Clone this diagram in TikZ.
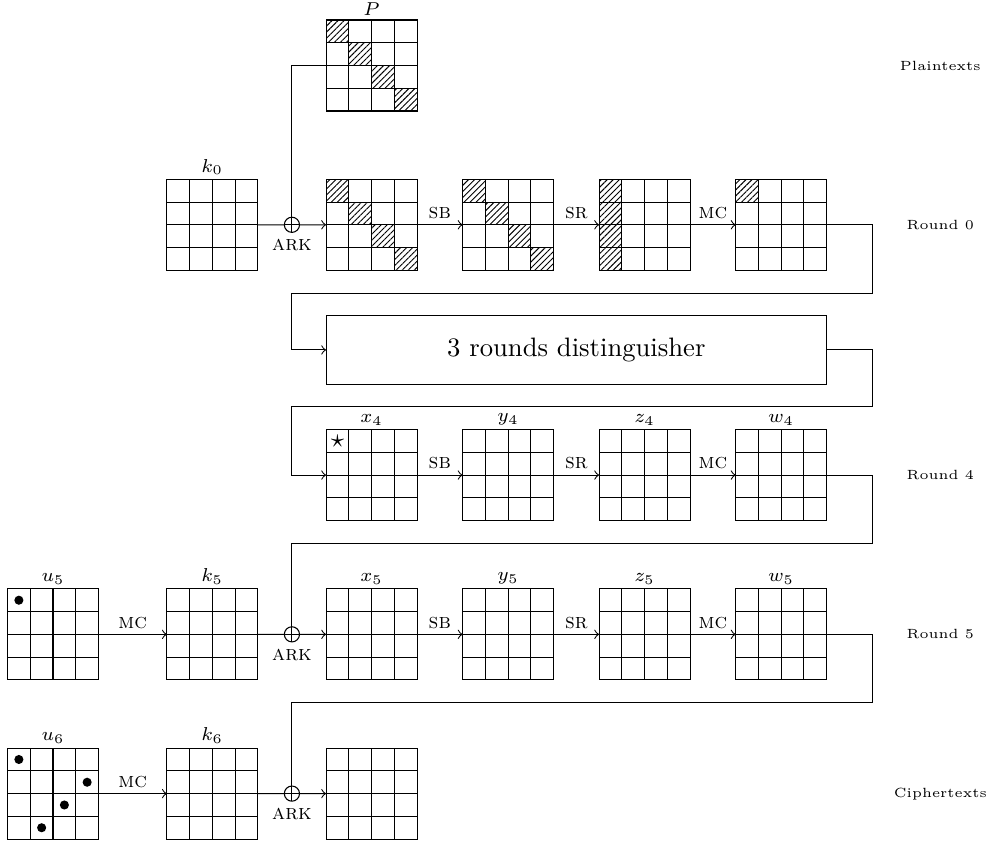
\documentclass[tikz,border=0pt]{standalone}
\usepackage{amsmath,amssymb}
\usepackage{tikz}
\usetikzlibrary{patterns.meta}
\usetikzlibrary{positioning}

\begin{document}
\begin{tikzpicture}[x=0.3cm,y=0.3cm,
  state/.style={draw, minimum size=1.2cm, inner sep=0pt, outer sep=0pt, anchor=north west},
  lbl/.style={font=\scriptsize, inner sep=1.5pt},
  op/.style={font=\footnotesize, inner sep=2pt},
  xorop/.style={draw, circle, minimum size=0.2cm, inner sep=0pt, outer sep=0pt},
  side/.style={font=\tiny}]
\useasboundingbox (-0.33,0.88) rectangle (43.05,-36.09);
\foreach \n/\x/\y in {P/14/0, k0/7/-7, a0/14/-7, b0/20/-7, c0/26/-7, d0/32/-7,
  x4/14/-18, y4/20/-18, z4/26/-18, w4/32/-18,
  u5/0/-25, k5/7/-25, x5/14/-25, y5/20/-25, z5/26/-25, w5/32/-25,
  u6/0/-32, k6/7/-32, c6/14/-32}{
  \node[state] (\n) at (\x,\y) {};
  \foreach \i in {1,2,3}
    \draw (\n.north west) ++(\i,0) -- ++(0,-4) (\n.north west) ++(0,-\i) -- ++(4,0);
}
\foreach \n/\t in {P/P, k0/k_0, x4/x_4, y4/y_4, z4/z_4, w4/w_4,
  u5/u_5, k5/k_5, x5/x_5, y5/y_5, z5/z_5, w5/w_5, u6/u_6, k6/k_6}
  \node[lbl, above] (l\n) at (\n.north) {$\t$};
\foreach \n/\c/\r in {P/0/0, P/1/1, P/2/2, P/3/3, a0/0/0, a0/1/1, a0/2/2, a0/3/3,
  b0/0/0, b0/1/1, b0/2/2, b0/3/3, c0/0/0, c0/0/1, c0/0/2, c0/0/3, d0/0/0}
  \fill[pattern={Lines[angle=45, distance=1.6pt, line width=0.35pt]}] (\n.north west) ++(\c,-\r) rectangle ++(1,-1);
\fill (u5.north west) ++(0.5,-0.5) circle (0.06cm);
\foreach \c/\r in {0/0, 3/1, 2/2, 1/3}
  \fill (u6.north west) ++(\c+0.5,-\r-0.5) circle (0.06cm);
\node[inner sep=0pt] (star4) at ([shift={(0.5,-0.5)}]x4.north west) {$\star$};

\node[draw, anchor=north west, minimum width=6.6cm, minimum height=0.9cm, inner sep=0pt, outer sep=0pt] (dist) at (14,-13) {3 rounds distinguisher};

\node[xorop] (ark0) at (12.5,-9) {};
\node[xorop] (ark5) at (12.5,-27) {};
\node[xorop] (ark6) at (12.5,-34) {};
\foreach \a in {ark0, ark5, ark6}{
  \draw (\a.north) -- (\a.south) (\a.west) -- (\a.east);
  \node[op, below=0.5pt of \a] (t\a) {\textsc{ark}};
}

\coordinate (e0) at (38,-12);
\coordinate (f0) at (12.5,-12);
\coordinate (e1) at (38,-17);
\coordinate (f1) at (12.5,-17);
\coordinate (e4) at (38,-23);
\coordinate (f4) at (12.5,-23);
\coordinate (e5) at (38,-30);
\coordinate (f5) at (12.5,-30);

\draw (P.west) -| (ark0.north);
\draw (k0.east) -- (ark0.west);
\draw[->] (ark0.east) -- (a0.west);
\draw[->] (a0.east) -- node[op, above] (sb0) {\textsc{sb}} (b0.west);
\draw[->] (b0.east) -- node[op, above] (sr0) {\textsc{sr}} (c0.west);
\draw[->] (c0.east) -- node[op, above] (mc0) {\textsc{mc}} (d0.west);
\draw[->] (d0.east) -| (e0) -- (f0) |- (dist.west);

\draw[->] (dist.east) -| (e1) -- (f1) |- (x4.west);
\draw[->] (x4.east) -- node[op, above] (sb4) {\textsc{sb}} (y4.west);
\draw[->] (y4.east) -- node[op, above] (sr4) {\textsc{sr}} (z4.west);
\draw[->] (z4.east) -- node[op, above] (mc4) {\textsc{mc}} (w4.west);
\draw (w4.east) -| (e4) -- (f4) -- (ark5.north);

\draw[->] (u5.east) -- node[op, above] (mcu5) {\textsc{mc}} (k5.west);
\draw (k5.east) -- (ark5.west);
\draw[->] (ark5.east) -- (x5.west);
\draw[->] (x5.east) -- node[op, above] (sb5) {\textsc{sb}} (y5.west);
\draw[->] (y5.east) -- node[op, above] (sr5) {\textsc{sr}} (z5.west);
\draw[->] (z5.east) -- node[op, above] (mc5) {\textsc{mc}} (w5.west);
\draw (w5.east) -| (e5) -- (f5) -- (ark6.north);

\draw[->] (u6.east) -- node[op, above] (mcu6) {\textsc{mc}} (k6.west);
\draw (k6.east) -- (ark6.west);
\draw[->] (ark6.east) -- (c6.west);

\node[side] (tplain) at (41,-2) {Plaintexts};
\node[side] (tr0) at (41,-9) {Round 0};
\node[side] (tr4) at (41,-20) {Round 4};
\node[side] (tr5) at (41,-27) {Round 5};
\node[side] (tcipher) at (41,-34) {Ciphertexts};
\end{tikzpicture}
\end{document}
